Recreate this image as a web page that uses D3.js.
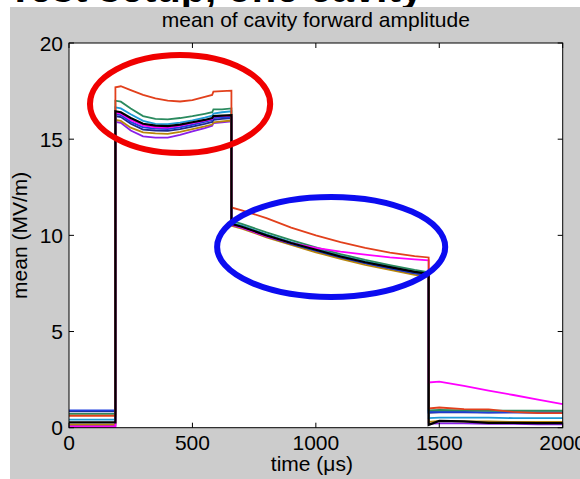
<!DOCTYPE html>
<html><head><meta charset="utf-8">
<script src="https://cdn.jsdelivr.net/npm/d3@7"></script>
<style>body{margin:0;background:#fff;} svg{display:block;font-family:"Liberation Sans",Arial,Helvetica,sans-serif;}</style>
</head><body><svg id="c" width="580" height="479"></svg>
<script>
// ---- data ----
const time = [0,188,188,210,250,300,350,400,450,500,550,580,585,620,658,658,700,800,900,1000,1100,1200,1300,1400,1457,1457,1500,1600,1700,1800,1900,2000];
const xTicks = [0,500,1000,1500,2000];
const yTicks = [0,5,10,15,20];
const titleText = "mean of cavity forward amplitude";
const xLabel = "time (\u03bcs)";
const yLabel = "mean (MV/m)";
const slideTitle = "Test setup, one cavity";

const white   = [0.56,0.56, 16.8,16.75,16.45,16.1,15.92,15.9,15.98,16.1,16.22,16.32,16.42,16.46,16.5, 10.62,10.47,10.02,9.62,9.27,8.92,8.62,8.36,8.11,8.0, 0.62,0.62,0.62,0.62,0.6,0.6,0.6];
const purple  = [0.1,0.1, 15.9,15.85,15.45,15.15,15.08,15.08,15.22,15.4,15.58,15.7,15.83,15.88,15.93, 10.55,10.42,9.97,9.58,9.22,8.87,8.56,8.29,8.04,7.94, 0.2,0.22,0.22,0.2,0.2,0.18,0.18];
const gold    = [0.16,0.16, 16.0,15.95,15.6,15.35,15.3,15.28,15.38,15.52,15.66,15.76,15.87,15.92,15.97, 10.5,10.35,9.9,9.5,9.12,8.78,8.47,8.2,7.95,7.85, 0.3,0.35,0.33,0.33,0.3,0.3,0.3];
const navy    = [0.85,0.85, 16.2,16.15,15.8,15.5,15.45,15.43,15.52,15.65,15.8,15.9,16.0,16.05,16.1, 10.55,10.4,9.95,9.55,9.2,8.85,8.55,8.28,8.03,7.93, 0.78,0.8,0.8,0.78,0.8,0.78,0.78];
const blue    = [0.9,0.9, 16.3,16.25,15.9,15.62,15.55,15.53,15.62,15.75,15.9,16.0,16.1,16.13,16.15, 10.58,10.43,9.98,9.57,9.22,8.88,8.57,8.3,8.05,7.95, 0.82,0.82,0.82,0.8,0.8,0.8,0.8];
const cyan    = [0.42,0.42, 16.65,16.6,16.3,15.95,15.8,15.78,15.86,15.98,16.12,16.22,16.33,16.4,16.45, 10.65,10.5,10.05,9.65,9.3,8.95,8.65,8.38,8.12,8.0, 0.5,0.52,0.52,0.52,0.5,0.5,0.5];
const green   = [0.72,0.72, 17.0,16.95,16.6,16.2,16.05,16.03,16.1,16.2,16.32,16.4,16.55,16.55,16.6, 10.75,10.6,10.15,9.75,9.38,9.03,8.72,8.45,8.2,8.08, 0.9,0.92,0.9,0.88,0.88,0.88,0.88];
const magenta = [0.05,0.05, 16.38,16.33,16.0,15.72,15.62,15.6,15.7,15.83,15.97,16.05,16.17,16.2,16.22, 10.55,10.4,9.95,9.6,9.35,9.15,9.0,8.85,8.75,8.7, 2.35,2.4,2.17,1.93,1.7,1.46,1.22];
const red     = [0.62,0.62, 17.7,17.75,17.55,17.3,17.12,17.0,16.96,17.03,17.2,17.3,17.47,17.5,17.52, 11.45,11.3,10.9,10.4,10.0,9.65,9.35,9.1,8.92,8.85, 1.0,1.05,0.97,0.95,0.82,0.76,0.76];
const black   = [0.28,0.28, 16.45,16.4,16.1,15.8,15.7,15.68,15.76,15.88,16.0,16.1,16.2,16.22,16.25, 10.6,10.45,10.0,9.6,9.25,8.9,8.6,8.35,8.1,8.0, 0.15,0.35,0.33,0.25,0.25,0.24,0.24];

const seriesValues = [white, purple, gold, navy, blue, cyan, green, magenta, red, black];
const seriesColors = ["#ffffff","#8a1fe8","#b8860b","#1c2a8c","#1f3fe0","#1e9ad6","#2a8a5e","#ff00ff","#e2401c","#000000"];
const seriesWidths = [1.8,1.8,1.8,1.8,1.8,1.8,1.8,1.8,1.8,2.2];

// ---- layout ----
const W = 580, H = 479;
const m = {left:69, right:562.7, top:43, bottom:427.7};
const svg = d3.select("#c");

// slide title fragment cut off at the top of the picture
svg.append("defs").append("clipPath").attr("id", "topclip")
  .append("rect").attr("x", 0).attr("y", 0).attr("width", W).attr("height", 7);
svg.append("text").attr("clip-path", "url(#topclip)")
  .attr("x", 8).attr("y", 1.5).attr("font-size", 40).attr("font-weight", "bold")
  .attr("fill", "#000").text(slideTitle);
// figure background
svg.append("rect").attr("x", 10).attr("y", 7).attr("width", W - 10).attr("height", H - 7).attr("fill", "#cccccc");
// axes background
svg.append("rect").attr("x", m.left).attr("y", m.top).attr("width", m.right - m.left).attr("height", m.bottom - m.top).attr("fill", "#fff");

const x = d3.scaleLinear().domain([0, 2000]).range([m.left, m.right]);
const y = d3.scaleLinear().domain([0, 20]).range([m.bottom, m.top]);

const line = d3.line().x((d, i) => x(time[i])).y(d => y(d));
const g = svg.append("g");
seriesValues.forEach((vals, k) => {
  g.append("path").attr("d", line(vals)).attr("fill", "none")
    .attr("stroke", seriesColors[k]).attr("stroke-width", seriesWidths[k]).attr("stroke-linejoin", "miter");
});

// annotation ellipses
svg.append("ellipse").attr("cx", x(450)).attr("cy", y(16.83))
  .attr("rx", x(365) - x(0)).attr("ry", y(0) - y(2.55))
  .attr("fill", "none").attr("stroke", "#f00000").attr("stroke-width", 6);
svg.append("ellipse").attr("cx", x(1062)).attr("cy", y(9.4))
  .attr("rx", x(462) - x(0)).attr("ry", y(0) - y(2.6))
  .attr("fill", "none").attr("stroke", "#0c0cf0").attr("stroke-width", 6);

// axes box and ticks (MATLAB style, inward)
const tl = 5;
const ax = svg.append("g").attr("stroke", "#000").attr("stroke-width", 1);
ax.append("rect").attr("x", m.left).attr("y", m.top).attr("width", m.right - m.left).attr("height", m.bottom - m.top).attr("fill", "none");
xTicks.forEach(t => {
  ax.append("line").attr("x1", x(t)).attr("x2", x(t)).attr("y1", m.bottom).attr("y2", m.bottom - tl);
  ax.append("line").attr("x1", x(t)).attr("x2", x(t)).attr("y1", m.top).attr("y2", m.top + tl);
});
yTicks.forEach(v => {
  ax.append("line").attr("x1", m.left).attr("x2", m.left + tl).attr("y1", y(v)).attr("y2", y(v));
  ax.append("line").attr("x1", m.right).attr("x2", m.right - tl).attr("y1", y(v)).attr("y2", y(v));
});

const fs = 21;
svg.append("g").selectAll("text").data(xTicks).join("text")
  .attr("x", d => x(d)).attr("y", 450).attr("text-anchor", "middle").attr("font-size", fs).text(d => d);
svg.append("g").selectAll("text").data(yTicks).join("text")
  .attr("x", 63).attr("y", d => y(d) + 7.5).attr("text-anchor", "end").attr("font-size", fs).text(d => d);

svg.append("text").attr("x", (m.left + m.right) / 2).attr("y", 27).attr("text-anchor", "middle")
  .attr("font-size", fs).text(titleText);
svg.append("text").attr("x", (m.left + m.right) / 2 - 4).attr("y", 471).attr("text-anchor", "middle")
  .attr("font-size", fs).text(xLabel);
svg.append("text").attr("transform", `translate(27,${(m.top + m.bottom) / 2}) rotate(-90)`).attr("text-anchor", "middle")
  .attr("font-size", fs).text(yLabel);
</script></body></html>
